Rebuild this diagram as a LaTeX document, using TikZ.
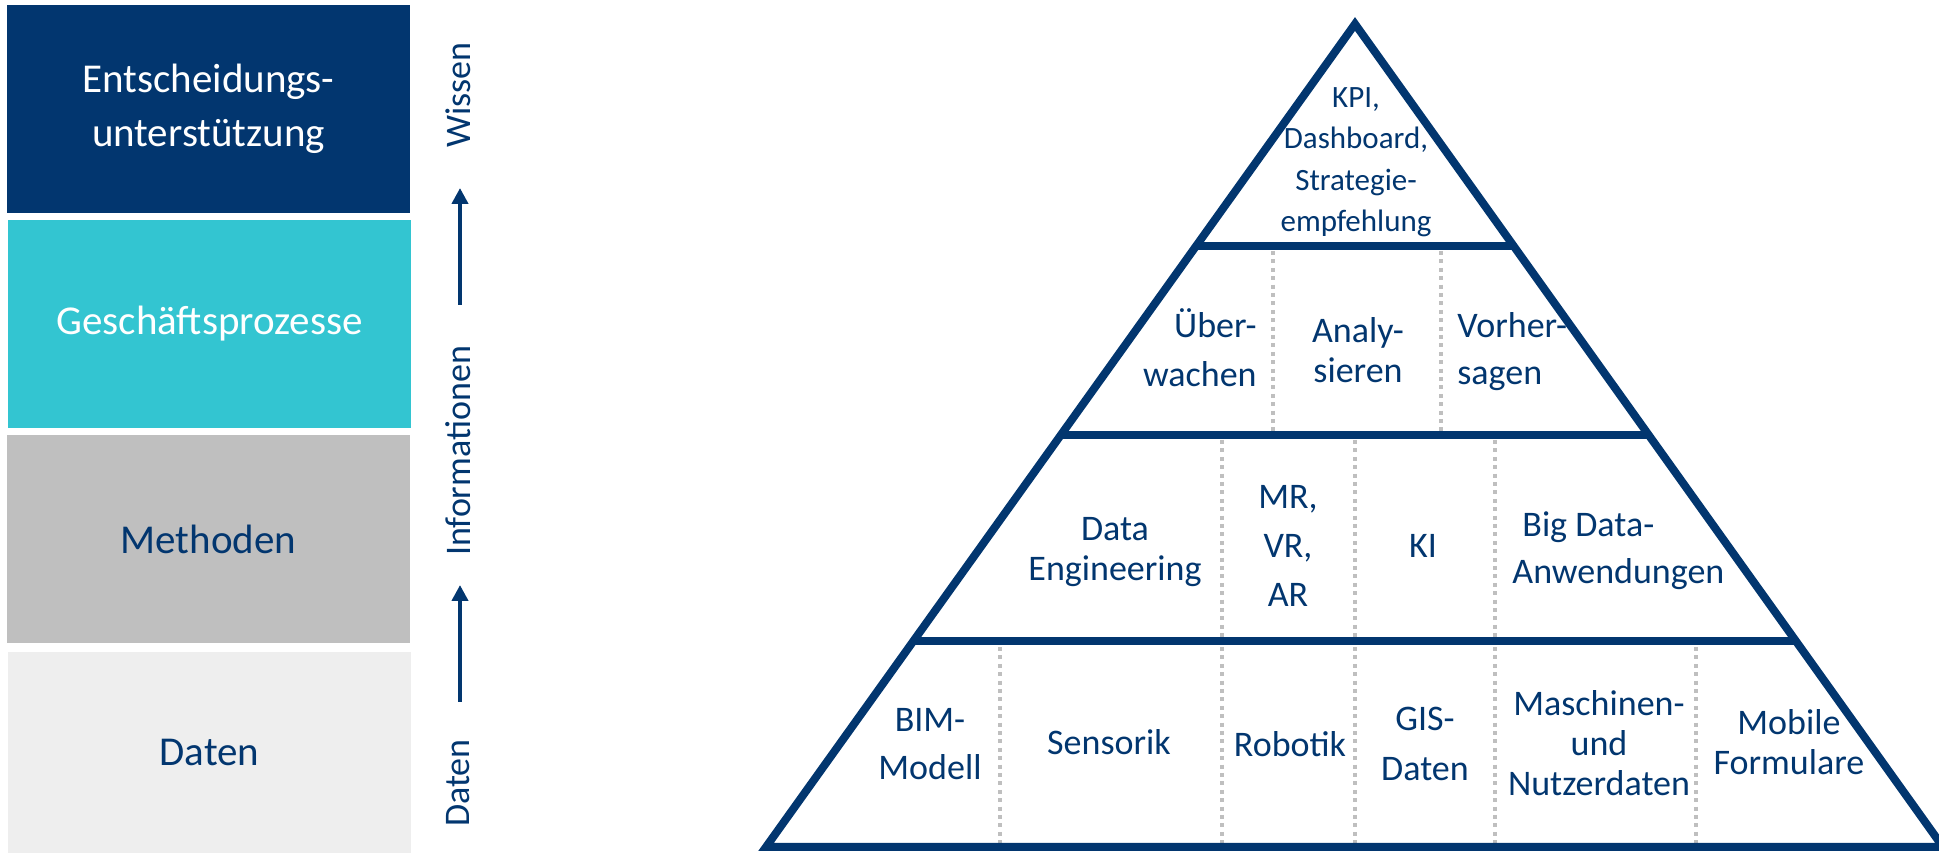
\documentclass[tikz,border=0pt]{standalone}
\usepackage{fontspec}
\setmainfont{Carlito}
\usetikzlibrary{arrows.meta}
\usetikzlibrary{calc}
\usetikzlibrary{positioning}
\definecolor{navy}{HTML}{02366F}
\definecolor{boxteal}{HTML}{33C5D1}
\definecolor{boxgray}{HTML}{BFBFBF}
\definecolor{boxlight}{HTML}{EEEEEE}

\begin{document}
\begin{tikzpicture}
    [
    x=0.5pt,y=-0.5pt,
    layer/.style={rectangle,inner sep=0pt,minimum width=201.5pt,minimum height=104pt,align=center,font=\fontsize{20.5}{27}\selectfont},
    axis/.style={rotate=90,inner sep=0pt,text=navy,font=\fontsize{18}{22}\selectfont},
    up/.style={draw=navy,line width=2pt,-{Triangle[width=8pt,length=8pt]}},
    cell/.style={inner sep=0pt,anchor=base,align=center,text=navy,font=\fontsize{18}{#1}\selectfont},
    cell/.default=22pt,
    edge/.style={draw=navy,line width=4pt},
    divider/.style={draw=boxgray,line width=2pt,dash pattern=on 2pt off 2.2pt},
    ]
    \useasboundingbox (0,0) rectangle (1939,854);

    % layers on the left
    \node (ent) at (208.5,109) [layer,fill=navy,text=white] {Entscheidungs-\\unterstützung};
    \node (ges) at (209.5,324) [layer,fill=boxteal,text=white] {Geschäftsprozesse};
    \node (met) at (208.5,539) [layer,fill=boxgray,text=navy] {Methoden};
    \node (dat) at (209.5,752.5) [layer,fill=boxlight,text=navy,minimum height=100.5pt] {Daten};

    % axis
    \node (wissen) at (458,95) [axis] {Wissen};
    \node (info) at (458,451) [axis] {Informationen};
    \node (daten) at (458,783) [axis] {Daten};
    \coordinate (u1) at (460,305);
    \coordinate (u2) at (460,188);
    \coordinate (u3) at (460,702);
    \coordinate (u4) at (460,585);
    \draw [up] (u1) to (u2);
    \draw [up] (u3) to (u4);

    % pyramid
    \coordinate (apex) at (1355,24);
    \coordinate (bl) at (766,847);
    \coordinate (br) at (1943,847);
    \coordinate (l1) at ($(apex)!0.27!(bl)$);
    \coordinate (r1) at ($(apex)!0.27!(br)$);
    \coordinate (l2) at ($(apex)!0.5!(bl)$);
    \coordinate (r2) at ($(apex)!0.5!(br)$);
    \coordinate (l3) at ($(apex)!0.75!(bl)$);
    \coordinate (r3) at ($(apex)!0.75!(br)$);
    \foreach \x in {1273,1441}
        \draw [divider] (\x,251) -- (\x,431);
    \foreach \x in {1222,1355,1495}
        \draw [divider] (\x,440) -- (\x,638);
    \foreach \x in {1000,1222,1355,1495,1696}
        \draw [divider] (\x,647) -- (\x,843);
    \draw [edge,line join=miter] (apex) -- (bl) -- (br) -- cycle;
    \draw [edge] (l1) -- (r1);
    \draw [edge] (l2) -- (r2);
    \draw [edge] (l3) -- (r3);

    % top
    \node (kpi) at (1356,232) [cell=20.8pt,font=\fontsize{15.5}{20.8}\selectfont] {KPI,\\Dashboard,\\Strategie-\\empfehlung};
    % second row
    \node (ueber) at (1257,387) [cell=24.5pt,anchor=base east,align=right] {Über-\\wachen};
    \node (analy) at (1358,383) [cell=20pt] {Analy-\\sieren};
    \node (vorher) at (1457,385) [cell=23.5pt,anchor=base west,align=left] {Vorher-\\sagen};
    % third row
    \node (data) at (1115,580.5) [cell=20pt] {Data\\Engineering};
    \node (mr) at (1288,607) [cell=24.5pt] {MR,\\VR,\\AR};
    \node (ki) at (1423,558) [cell] {KI};
    \node (big) at (1512,584) [cell=23.5pt,anchor=base west,align=left] {\hspace*{5pt}Big Data-\\Anwendungen};
    % bottom row
    \node (bim) at (930,780) [cell=24pt] {BIM-\\Modell};
    \node (sens) at (1109,755) [cell] {Sensorik};
    \node (rob) at (1290,757) [cell] {Robotik};
    \node (gis) at (1425,780.5) [cell=25pt] {GIS-\\Daten};
    \node (masch) at (1599,796) [cell=20pt] {Maschinen-\\und\\Nutzerdaten};
    \node (mob) at (1789,775) [cell=20pt] {Mobile\\Formulare};
\end{tikzpicture}
\end{document}
